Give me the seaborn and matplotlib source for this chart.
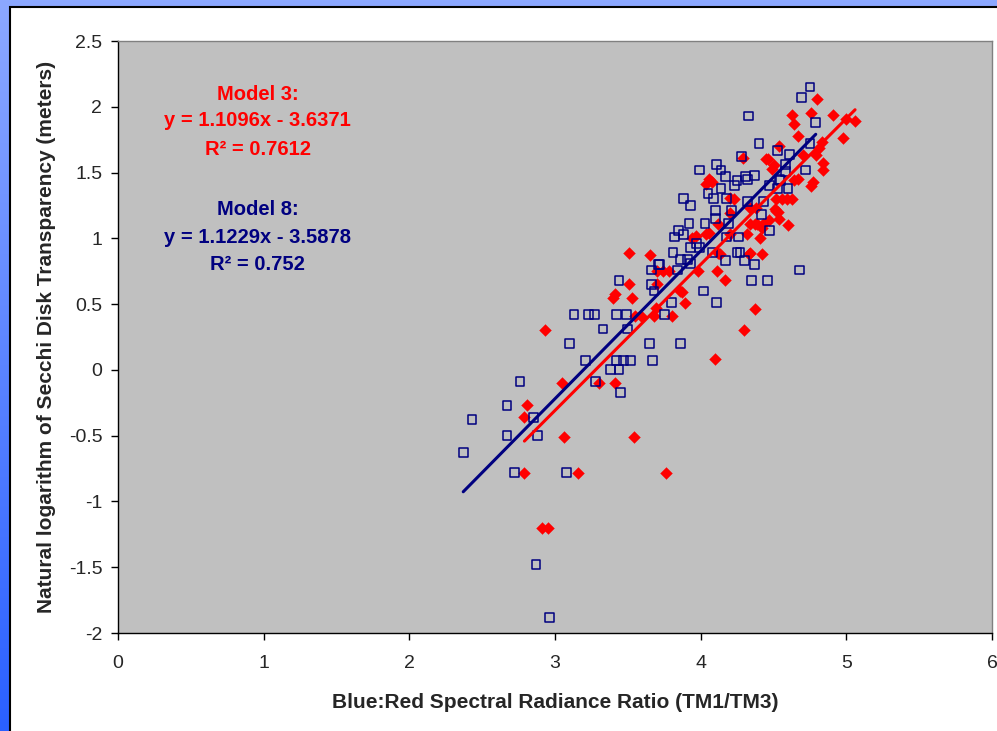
import numpy as np
import pandas as pd
import seaborn as sns
import matplotlib.pyplot as plt
from matplotlib.patches import Rectangle
from matplotlib.colors import LinearSegmentedColormap

# Model 3 observations (red diamonds)
model3_ratio = [2.93, 3.05, 2.81, 2.79, 3.06, 3.54, 3.41, 3.30, 4.10, 2.79, 3.16, 3.76,
                2.91, 2.95, 3.89, 3.80, 3.68, 3.59, 3.55, 3.69, 3.65, 4.33, 4.42, 4.13,
                4.11, 4.17, 3.98, 3.74, 3.78, 3.70, 3.87, 3.70, 4.37, 4.30, 3.51, 3.51,
                3.41, 3.53, 3.40, 4.45, 4.08, 4.04, 4.06, 4.29, 4.20, 4.34, 4.38, 4.43,
                4.34, 4.39, 4.20, 4.12, 4.06, 4.04, 3.97, 4.20, 4.32, 4.41, 3.94, 4.80,
                4.63, 4.76, 4.91, 4.64, 5.00, 5.06, 4.98, 4.67, 4.83, 4.81, 4.54, 4.70,
                4.79, 4.46, 4.50, 4.84, 4.84, 4.77, 4.76, 4.67, 4.64, 4.52, 4.56, 4.59,
                4.63, 4.51, 4.53, 4.47, 4.60, 4.42, 4.23, 4.37, 4.52, 4.12, 4.34, 3.86,
                4.49, 4.54]
model3_lnsd = [0.30, -0.10, -0.27, -0.36, -0.51, -0.51, -0.10, -0.10, 0.08, -0.78, -0.78, -0.78,
               -1.20, -1.20, 0.51, 0.41, 0.41, 0.41, 0.41, 0.47, 0.87, 0.88, 0.88, 0.88,
               0.75, 0.68, 0.75, 0.75, 0.75, 0.75, 0.59, 0.65, 0.46, 0.30, 0.89, 0.65,
               0.58, 0.55, 0.55, 1.60, 1.43, 1.41, 1.45, 1.61, 1.31, 1.23, 1.23, 1.11,
               1.11, 1.11, 1.19, 1.11, 1.04, 1.03, 1.02, 1.03, 1.03, 1.00, 1.00, 2.06,
               1.94, 1.95, 1.94, 1.87, 1.91, 1.89, 1.76, 1.78, 1.73, 1.69, 1.70, 1.63,
               1.63, 1.60, 1.56, 1.57, 1.52, 1.43, 1.40, 1.45, 1.44, 1.30, 1.30, 1.30,
               1.30, 1.22, 1.20, 1.14, 1.10, 1.08, 1.30, 1.11, 1.21, 0.89, 0.89, 0.60,
               1.53, 1.15]

# Model 8 observations (blue open squares)
model8_ratio = [3.13, 3.23, 3.27, 3.42, 3.49, 3.33, 3.50, 3.10, 3.65, 3.86, 3.21, 3.42,
                3.47, 3.52, 3.67, 3.38, 3.44, 2.76, 3.28, 3.45, 2.67, 2.85, 2.43, 2.67,
                2.88, 2.37, 2.72, 3.08, 2.87, 2.96, 4.11, 3.80, 3.75, 3.44, 4.75, 4.69,
                4.33, 4.79, 4.40, 4.53, 4.28, 4.61, 4.75, 3.99, 4.11, 4.14, 4.17, 4.25,
                4.31, 4.37, 4.32, 4.58, 4.72, 4.54, 4.60, 4.47, 4.14, 4.23, 4.05, 4.09,
                4.18, 3.88, 3.93, 4.10, 4.32, 4.43, 4.21, 4.10, 4.42, 3.92, 4.03, 3.85,
                3.88, 3.82, 4.19, 4.26, 4.18, 4.47, 3.97, 3.93, 3.99, 3.81, 4.08, 4.25,
                4.27, 3.86, 3.93, 3.72, 4.17, 4.30, 4.37, 3.66, 3.84, 4.68, 3.66, 3.68,
                4.35, 4.46, 4.02, 4.58, 4.55, 4.53, 3.71, 3.91]
model8_lnsd = [0.42, 0.42, 0.42, 0.42, 0.42, 0.31, 0.31, 0.20, 0.20, 0.20, 0.07, 0.07,
               0.07, 0.07, 0.07, 0.00, 0.00, -0.09, -0.09, -0.17, -0.27, -0.36, -0.38, -0.50,
               -0.50, -0.63, -0.78, -0.78, -1.48, -1.88, 0.51, 0.51, 0.42, 0.68, 2.15, 2.07,
               1.93, 1.88, 1.72, 1.67, 1.62, 1.64, 1.72, 1.52, 1.56, 1.52, 1.47, 1.44,
               1.47, 1.48, 1.45, 1.56, 1.52, 1.45, 1.38, 1.40, 1.38, 1.40, 1.34, 1.30,
               1.30, 1.30, 1.25, 1.21, 1.28, 1.28, 1.21, 1.15, 1.18, 1.11, 1.11, 1.06,
               1.03, 1.01, 1.11, 1.01, 1.01, 1.06, 0.96, 0.93, 0.93, 0.89, 0.89, 0.89,
               0.89, 0.84, 0.81, 0.80, 0.83, 0.83, 0.80, 0.76, 0.76, 0.76, 0.65, 0.60,
               0.68, 0.68, 0.60, 1.51, 1.44, 1.38, 0.80, 0.84]

# trendline equations as printed on the chart
model3_fit = (1.1096, -3.6371)
model8_fit = (1.1229, -3.5878)
model3_r2 = "0.7612"
model8_r2 = "0.752"

x_ticks = [0, 1, 2, 3, 4, 5, 6]
y_ticks = [-2, -1.5, -1, -0.5, 0, 0.5, 1, 1.5, 2, 2.5]

RED = "#ff0000"
NAVY = "#000080"


def trend_frame(ratio, fit):
    # line from the smallest to the largest ratio of the series
    xs = np.array([min(ratio), max(ratio)])
    return pd.DataFrame({"ratio": xs, "lnsd": fit[0] * xs + fit[1]})


def add_background(fig):
    # blue slide background (light at top, deeper at bottom) with the white chart panel
    bg = fig.add_axes([0, 0, 1, 1], zorder=-5)
    cmap = LinearSegmentedColormap.from_list("slide", ["#8ca8ff", "#2a60ff"])
    bg.imshow(np.linspace(0, 1, 256).reshape(-1, 1), aspect="auto", cmap=cmap,
              extent=[0, 1, 0, 1], origin="upper")
    bg.add_patch(Rectangle((9.5 / 997, -0.01), 1.0, 1 - 7.5 / 731 + 0.01,
                           facecolor="white", edgecolor="black", linewidth=1.5))
    bg.set_xlim(0, 1)
    bg.set_ylim(0, 1)
    bg.axis("off")


def main():
    sns.set_style("white")
    plt.rcParams["font.family"] = ["Liberation Sans", "DejaVu Sans"]
    plt.rcParams["axes.unicode_minus"] = False

    fig = plt.figure(figsize=(9.97, 7.31), dpi=100)
    add_background(fig)

    ax = fig.add_axes([118 / 997, 1 - 633 / 731, 874 / 997, 592 / 731])
    ax.set_facecolor("#c0c0c0")

    m3 = pd.DataFrame({"ratio": model3_ratio, "lnsd": model3_lnsd})
    m8 = pd.DataFrame({"ratio": model8_ratio, "lnsd": model8_lnsd})

    sns.scatterplot(data=m3, x="ratio", y="lnsd", marker="D", s=36, color=RED,
                    edgecolor=RED, linewidth=0.3, ax=ax, zorder=2)
    sns.scatterplot(data=m8, x="ratio", y="lnsd", marker="s", s=40, facecolor="none",
                    edgecolor=NAVY, linewidth=1.1, ax=ax, zorder=3)

    sns.lineplot(data=trend_frame(model8_ratio, model8_fit), x="ratio", y="lnsd",
                 color=NAVY, linewidth=2.2, ax=ax, zorder=4)
    sns.lineplot(data=trend_frame(model3_ratio, model3_fit), x="ratio", y="lnsd",
                 color=RED, linewidth=2.2, ax=ax, zorder=5)

    ax.set_xlim(0, 6)
    ax.set_ylim(-2, 2.5)
    ax.set_xticks(x_ticks)
    ax.set_yticks(y_ticks)
    ax.set_xticklabels([f"{v:g}" for v in x_ticks])
    ax.set_yticklabels([f"{v:g}" for v in y_ticks])
    ax.tick_params(axis="both", direction="out", length=4.8, width=1, color="black",
                   labelsize=14, left=True, bottom=True)
    ax.tick_params(axis="y", pad=6.5)
    ax.tick_params(axis="x", pad=11)
    for side in ["left", "bottom"]:
        ax.spines[side].set_color("black")
        ax.spines[side].set_linewidth(1)
    for side in ["top", "right"]:
        ax.spines[side].set_color("#808080")
        ax.spines[side].set_linewidth(1)

    ax.set_xlabel("Blue:Red Spectral Radiance Ratio (TM1/TM3)", fontsize=15,
                  fontweight="bold", labelpad=15)
    ax.set_ylabel("Natural logarithm of Secchi Disk Transparency (meters)", fontsize=15,
                  fontweight="bold", labelpad=9)

    # equation labels, as in the Excel chart
    eq = dict(transform=ax.transAxes, ha="center", va="center", fontsize=14.5,
              fontweight="bold")
    ax.text(0.160, 0.910, "Model 3:", color=RED, **eq)
    ax.text(0.160, 0.866, f"y = {model3_fit[0]}x - {abs(model3_fit[1])}", color=RED, **eq)
    ax.text(0.160, 0.816, f"R² = {model3_r2}", color=RED, **eq)
    ax.text(0.160, 0.716, "Model 8:", color=NAVY, **eq)
    ax.text(0.160, 0.668, f"y = {model8_fit[0]}x - {abs(model8_fit[1])}", color=NAVY, **eq)
    ax.text(0.160, 0.622, f"R² = {model8_r2}", color=NAVY, **eq)

    legend = ax.get_legend()
    if legend is not None:
        legend.remove()

    fig.savefig("out.png", dpi=100)


if __name__ == "__main__":
    main()
